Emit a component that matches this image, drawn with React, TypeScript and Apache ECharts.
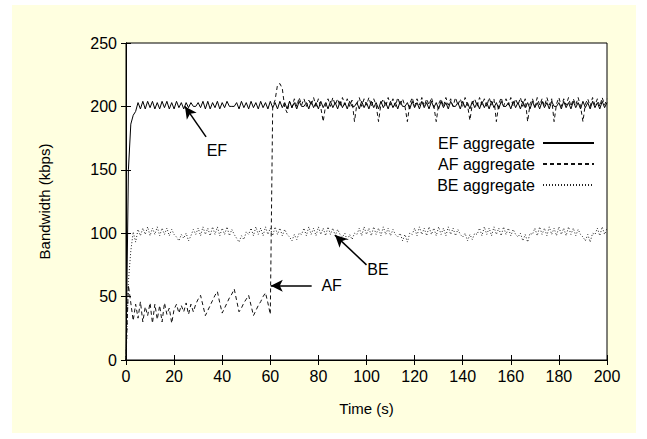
import React, { useEffect, useRef } from "react";
import * as echarts from "echarts";

// Bandwidth (kbps) sampled once per second, t = 0..200 s
const EF_AGG = [
  0, 150, 186, 193, 196, 203, 198, 204, 198, 204,
  199, 204, 198, 203, 198, 204, 199, 204, 198, 203,
  198, 204, 199, 203, 198, 203, 199, 203, 200, 200,
  203, 199, 204, 198, 204, 198, 203, 199, 204, 198,
  203, 199, 204, 200, 200, 200, 203, 198, 204, 199,
  203, 198, 204, 199, 203, 198, 204, 199, 203, 198,
  204, 199, 203, 198, 204, 199, 203, 198, 204, 199,
  203, 198, 204, 200, 200, 203, 198, 204, 199, 203,
  198, 204, 199, 203, 198, 204, 199, 203, 198, 204,
  199, 203, 198, 204, 200, 200, 203, 198, 204, 199,
  203, 198, 204, 199, 203, 198, 204, 199, 203, 198,
  204, 199, 203, 198, 204, 200, 200, 203, 198, 204,
  199, 203, 198, 204, 199, 203, 198, 204, 199, 203,
  198, 204, 199, 203, 198, 204, 200, 200, 203, 198,
  204, 199, 203, 198, 204, 199, 203, 198, 204, 199,
  203, 198, 204, 199, 203, 198, 204, 200, 200, 203,
  198, 204, 199, 203, 198, 204, 199, 203, 198, 204,
  199, 203, 198, 204, 199, 203, 198, 204, 200, 200,
  203, 198, 204, 199, 203, 198, 204, 199, 203, 198,
  204, 199, 203, 198, 204, 199, 203, 198, 204, 199,
  203,
];

const AF_AGG = [
  0, 59, 45, 31, 44, 33, 46, 30, 42, 35,
  45, 29, 44, 32, 43, 30, 45, 36, 41, 29,
  40, 44, 37, 43, 38, 45, 36, 44, 38, 44,
  48, 51, 43, 35, 39, 43, 47, 51, 54, 45,
  37, 41, 45, 49, 52, 56, 47, 38, 41, 45,
  48, 51, 43, 35, 39, 43, 46, 50, 53, 45,
  36, 200, 205, 217, 218, 214, 199, 195, 204, 199,
  206, 200, 207, 201, 206, 200, 205, 201, 207, 200,
  206, 199, 188, 201, 206, 200, 207, 201, 206, 200,
  207, 201, 206, 200, 205, 188, 202, 207, 200, 206,
  201, 207, 200, 206, 201, 188, 202, 206, 200, 207,
  201, 206, 200, 207, 201, 206, 200, 188, 202, 207,
  200, 206, 201, 207, 200, 206, 201, 207, 200, 188,
  202, 206, 200, 207, 201, 206, 200, 207, 201, 206,
  200, 207, 201, 189, 202, 206, 200, 207, 201, 206,
  200, 207, 201, 206, 188, 202, 207, 200, 206, 201,
  207, 200, 206, 201, 207, 200, 206, 188, 202, 206,
  200, 207, 201, 206, 200, 207, 201, 206, 188, 202,
  207, 200, 206, 201, 207, 200, 206, 201, 207, 200,
  188, 202, 206, 200, 207, 201, 206, 200, 207, 201,
  206,
];

const BE_AGG = [
  0, 62, 86, 101, 93, 103, 98, 104, 99, 105,
  98, 104, 99, 105, 98, 104, 99, 104, 98, 103,
  99, 97, 94, 99, 96, 100, 94, 98, 103, 99,
  104, 98, 105, 99, 104, 98, 105, 99, 105, 98,
  104, 99, 105, 98, 103, 99, 96, 93, 98, 95,
  101, 99, 104, 98, 105, 99, 104, 98, 105, 99,
  104, 98, 105, 99, 104, 98, 103, 99, 97, 94,
  99, 95, 100, 99, 104, 98, 105, 99, 104, 98,
  105, 99, 104, 98, 105, 99, 104, 98, 103, 99,
  97, 100, 94, 99, 95, 100, 99, 104, 98, 105,
  99, 104, 98, 105, 99, 104, 98, 105, 99, 104,
  98, 103, 99, 97, 100, 94, 99, 93, 100, 99,
  104, 98, 105, 99, 104, 98, 105, 99, 104, 98,
  105, 99, 104, 98, 105, 99, 104, 98, 103, 99,
  97, 100, 94, 99, 95, 100, 99, 104, 98, 105,
  99, 104, 98, 105, 99, 104, 98, 105, 99, 104,
  98, 103, 99, 97, 100, 94, 99, 93, 100, 99,
  104, 98, 105, 99, 104, 98, 105, 99, 104, 98,
  105, 99, 104, 98, 105, 99, 104, 98, 103, 99,
  97, 94, 99, 93, 100, 99, 104, 98, 105, 99,
  104,
];

const TIME_S = EF_AGG.map((_, i) => i);

const SERIES_NAMES = ["EF aggregate", "AF aggregate", "BE aggregate"];

// Annotation arrows in data coordinates: [tail time, tail kbps] -> [head time, head kbps]
const ARROW_LABELS = ["EF", "AF", "BE"];
const ARROW_FROM = [[33.3, 176], [77.2, 58.6], [100, 75]];
const ARROW_TO = [[24.5, 200], [60.2, 58.6], [86.9, 98.5]];
const LABEL_AT = [[37.8, 165.5], [85.5, 58.6], [104.8, 71]];

const FONT = "'Liberation Sans', Arial, Helvetica, sans-serif";

export default function App() {
  const ref = useRef<HTMLDivElement>(null);

  useEffect(() => {
    if (!ref.current) return;
    const chart = echarts.init(ref.current, undefined, { renderer: "svg" });

    const toPairs = (vals: number[]) => TIME_S.map((t, i) => [t, vals[i]]);

    const axisLine = { show: true, lineStyle: { color: "#000", width: 1 } };
    const tick = { show: true, inside: true, length: 5, lineStyle: { color: "#000", width: 1 } };

    chart.setOption({
      animation: false,
      backgroundColor: "transparent",
      textStyle: { fontFamily: FONT },
      grid: {
        left: 126,
        right: 40,
        top: 43,
        bottom: 79,
        show: true,
        backgroundColor: "#ffffff",
        borderColor: "#000",
        borderWidth: 1,
      },
      legend: {
        show: true,
        orient: "vertical",
        right: 47,
        top: 130,
        align: "right",
        itemWidth: 51,
        itemHeight: 14,
        itemGap: 5,
        selectedMode: false,
        data: SERIES_NAMES,
        itemStyle: { opacity: 0, color: "rgba(0,0,0,0)", borderWidth: 0 },
        textStyle: { fontSize: 16, color: "#000", fontFamily: FONT, padding: [0, 3, 0, 0] },
      },
      xAxis: [
        {
          type: "value",
          min: 0,
          max: 200,
          interval: 20,
          position: "bottom",
          name: "Time (s)",
          nameLocation: "middle",
          nameGap: 41,
          nameTextStyle: { fontSize: 15, color: "#000", fontFamily: FONT },
          axisLine,
          axisTick: tick,
          axisLabel: { fontSize: 16, color: "#000", margin: 8, fontFamily: FONT },
          splitLine: { show: false },
        },
        {
          type: "value",
          min: 0,
          max: 200,
          interval: 20,
          position: "top",
          axisLine,
          axisTick: tick,
          axisLabel: { show: false },
          splitLine: { show: false },
        },
      ],
      yAxis: [
        {
          type: "value",
          min: 0,
          max: 250,
          interval: 50,
          position: "left",
          name: "Bandwidth (kbps)",
          nameLocation: "middle",
          nameGap: 74,
          nameTextStyle: { fontSize: 15, color: "#000", fontFamily: FONT },
          axisLine,
          axisTick: tick,
          axisLabel: { fontSize: 16, color: "#000", margin: 9, fontFamily: FONT },
          splitLine: { show: false },
        },
        {
          type: "value",
          min: 0,
          max: 250,
          interval: 50,
          position: "right",
          axisLine,
          axisTick: tick,
          axisLabel: { show: false },
          splitLine: { show: false },
        },
      ],
      series: [
        {
          name: SERIES_NAMES[0],
          type: "line",
          data: toPairs(EF_AGG),
          symbol: "none",
          showSymbol: false,
          z: 4,
          lineStyle: { color: "#000", width: 1, type: "solid" },
          itemStyle: { color: "#000" },
          markLine: {
            silent: true,
            symbol: ["none", "arrow"],
            symbolSize: [9, 12],
            label: { show: false },
            lineStyle: { color: "#000", width: 1.5, type: "solid" },
            data: ARROW_FROM.map((f, i) => [
              { coord: f },
              { coord: ARROW_TO[i] },
            ]),
          },
          markPoint: {
            silent: true,
            symbol: "circle",
            symbolSize: 1,
            itemStyle: { color: "rgba(0,0,0,0)" },
            label: {
              show: true,
              position: "inside",
              formatter: "{b}",
              fontSize: 16,
              color: "#000",
              fontFamily: FONT,
            },
            data: LABEL_AT.map((c, i) => ({ name: ARROW_LABELS[i], coord: c })),
          },
        },
        {
          name: SERIES_NAMES[1],
          type: "line",
          data: toPairs(AF_AGG),
          symbol: "none",
          showSymbol: false,
          z: 3,
          lineStyle: { color: "#111", width: 1, type: [4, 3] },
          itemStyle: { color: "#111" },
        },
        {
          name: SERIES_NAMES[2],
          type: "line",
          data: toPairs(BE_AGG),
          symbol: "none",
          showSymbol: false,
          z: 2,
          lineStyle: { color: "#222", width: 1, type: [1, 2] },
          itemStyle: { color: "#222" },
        },
      ],
    });

    return () => chart.dispose();
  }, []);

  return (
    <div
      style={{
        position: "fixed",
        left: 0,
        top: 0,
        width: 647,
        height: 439,
        background: "#ffffff",
      }}
    >
      <div
        style={{
          position: "absolute",
          left: 12,
          top: 5,
          width: 624,
          height: 428,
          background: "#FFFFE0",
        }}
      />
      <div
        ref={ref}
        style={{ position: "absolute", left: 0, top: 0, width: 647, height: 439 }}
      />
    </div>
  );
}
